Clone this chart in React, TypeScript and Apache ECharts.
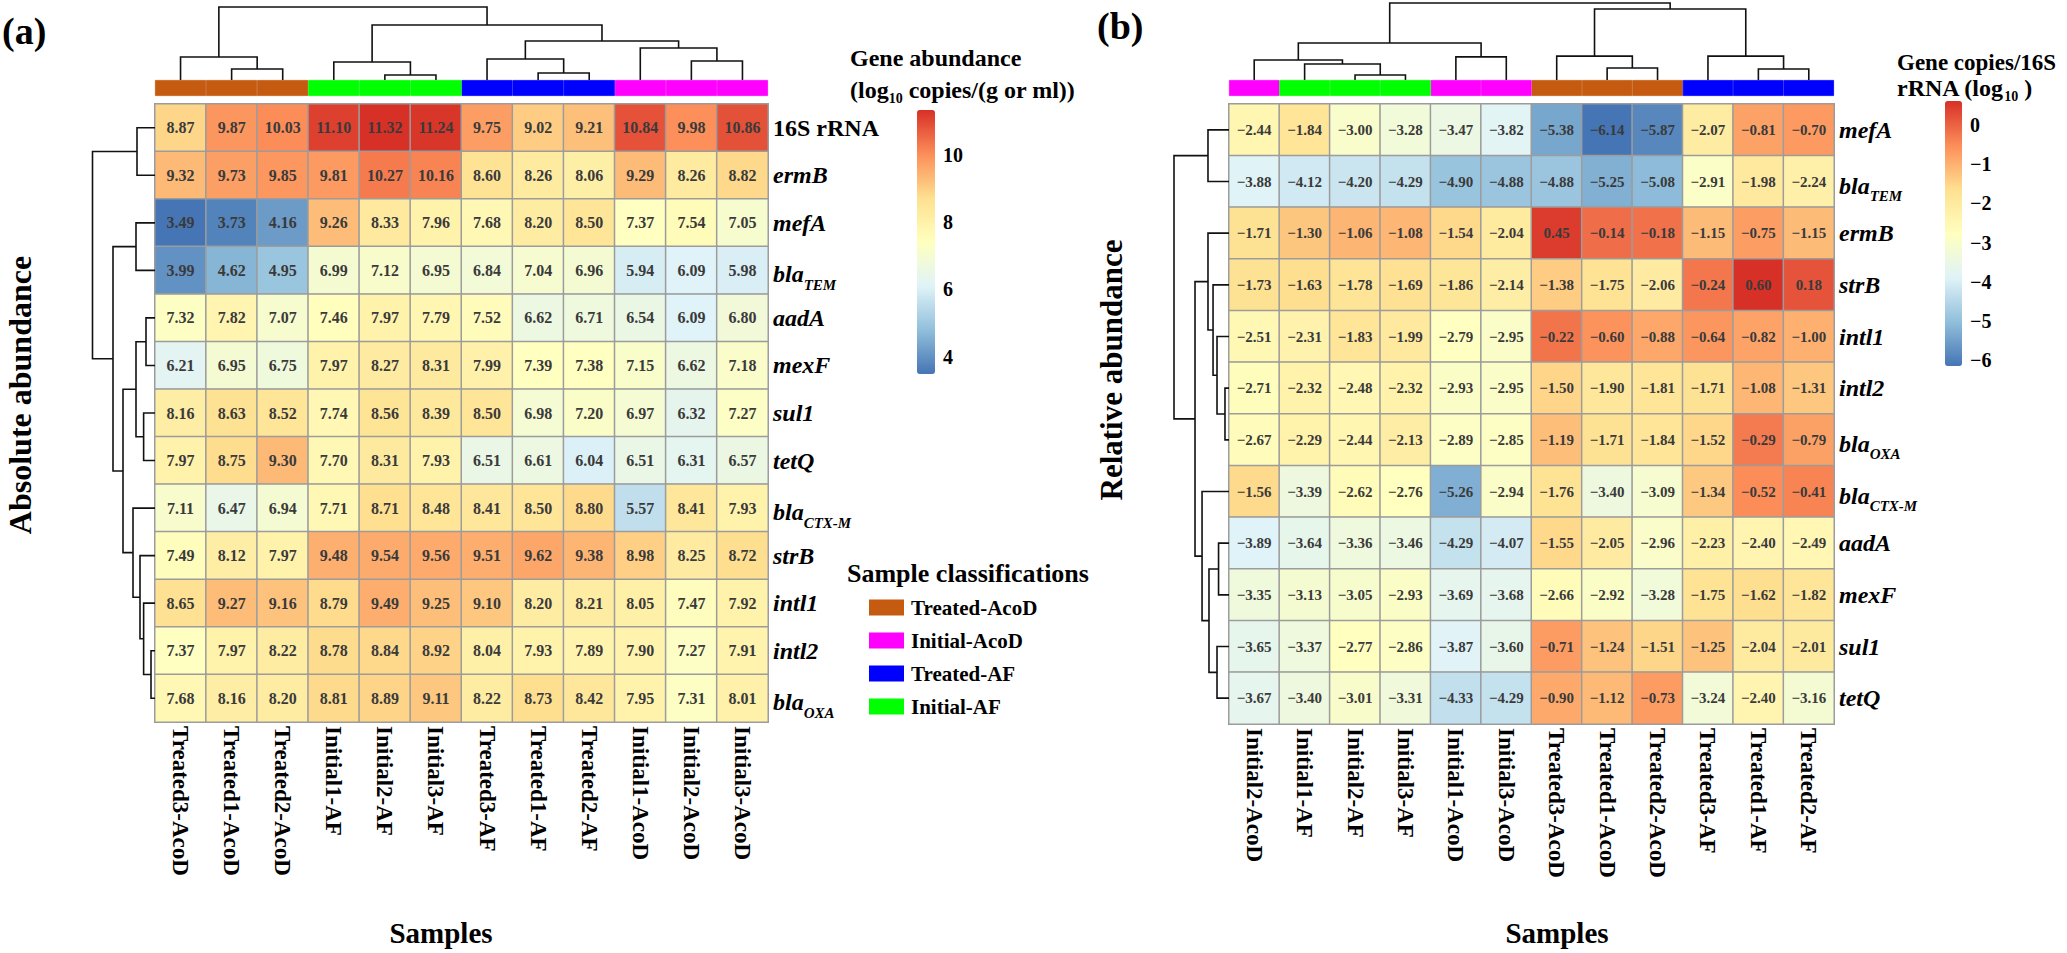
import React, { useEffect, useRef } from 'react';
import * as echarts from 'echarts';

const FONT = "'Liberation Serif', 'Times New Roman', serif";
const PAL = ['#4575B4', '#91BFDB', '#E0F3F8', '#FFFFBF', '#FEE090', '#FC8D59', '#D73027'];

// ---------- Panel (a): absolute abundance ----------
const colsA = ['Treated3-AcoD', 'Treated1-AcoD', 'Treated2-AcoD', 'Initial1-AF', 'Initial2-AF', 'Initial3-AF', 'Treated3-AF', 'Treated1-AF', 'Treated2-AF', 'Initial1-AcoD', 'Initial2-AcoD', 'Initial3-AcoD'];
const groupsA = ['Treated-AcoD', 'Treated-AcoD', 'Treated-AcoD', 'Initial-AF', 'Initial-AF', 'Initial-AF', 'Treated-AF', 'Treated-AF', 'Treated-AF', 'Initial-AcoD', 'Initial-AcoD', 'Initial-AcoD'];
const rowsA = ['16S rRNA', 'ermB', 'mefA', 'blaTEM', 'aadA', 'mexF', 'sul1', 'tetQ', 'blaCTX-M', 'strB', 'intl1', 'intl2', 'blaOXA'];
const valuesA = [
  [8.87, 9.87, 10.03, 11.10, 11.32, 11.24, 9.75, 9.02, 9.21, 10.84, 9.98, 10.86],
  [9.32, 9.73, 9.85, 9.81, 10.27, 10.16, 8.60, 8.26, 8.06, 9.29, 8.26, 8.82],
  [3.49, 3.73, 4.16, 9.26, 8.33, 7.96, 7.68, 8.20, 8.50, 7.37, 7.54, 7.05],
  [3.99, 4.62, 4.95, 6.99, 7.12, 6.95, 6.84, 7.04, 6.96, 5.94, 6.09, 5.98],
  [7.32, 7.82, 7.07, 7.46, 7.97, 7.79, 7.52, 6.62, 6.71, 6.54, 6.09, 6.80],
  [6.21, 6.95, 6.75, 7.97, 8.27, 8.31, 7.99, 7.39, 7.38, 7.15, 6.62, 7.18],
  [8.16, 8.63, 8.52, 7.74, 8.56, 8.39, 8.50, 6.98, 7.20, 6.97, 6.32, 7.27],
  [7.97, 8.75, 9.30, 7.70, 8.31, 7.93, 6.51, 6.61, 6.04, 6.51, 6.31, 6.57],
  [7.11, 6.47, 6.94, 7.71, 8.71, 8.48, 8.41, 8.50, 8.80, 5.57, 8.41, 7.93],
  [7.49, 8.12, 7.97, 9.48, 9.54, 9.56, 9.51, 9.62, 9.38, 8.98, 8.25, 8.72],
  [8.65, 9.27, 9.16, 8.79, 9.49, 9.25, 9.10, 8.20, 8.21, 8.05, 7.47, 7.92],
  [7.37, 7.97, 8.22, 8.78, 8.84, 8.92, 8.04, 7.93, 7.89, 7.90, 7.27, 7.91],
  [7.68, 8.16, 8.20, 8.81, 8.89, 9.11, 8.22, 8.73, 8.42, 7.95, 7.31, 8.01],
];
const legendTicksA = [4, 6, 8, 10];
const rangeA = [3.49, 11.32];

// ---------- Panel (b): relative abundance ----------
const colsB = ['Initial2-AcoD', 'Initial1-AF', 'Initial2-AF', 'Initial3-AF', 'Initial1-AcoD', 'Initial3-AcoD', 'Treated3-AcoD', 'Treated1-AcoD', 'Treated2-AcoD', 'Treated3-AF', 'Treated1-AF', 'Treated2-AF'];
const groupsB = ['Initial-AcoD', 'Initial-AF', 'Initial-AF', 'Initial-AF', 'Initial-AcoD', 'Initial-AcoD', 'Treated-AcoD', 'Treated-AcoD', 'Treated-AcoD', 'Treated-AF', 'Treated-AF', 'Treated-AF'];
const rowsB = ['mefA', 'blaTEM', 'ermB', 'strB', 'intl1', 'intl2', 'blaOXA', 'blaCTX-M', 'aadA', 'mexF', 'sul1', 'tetQ'];
const valuesB = [
  [-2.44, -1.84, -3.00, -3.28, -3.47, -3.82, -5.38, -6.14, -5.87, -2.07, -0.81, -0.70],
  [-3.88, -4.12, -4.20, -4.29, -4.90, -4.88, -4.88, -5.25, -5.08, -2.91, -1.98, -2.24],
  [-1.71, -1.30, -1.06, -1.08, -1.54, -2.04, 0.45, -0.14, -0.18, -1.15, -0.75, -1.15],
  [-1.73, -1.63, -1.78, -1.69, -1.86, -2.14, -1.38, -1.75, -2.06, -0.24, 0.60, 0.18],
  [-2.51, -2.31, -1.83, -1.99, -2.79, -2.95, -0.22, -0.60, -0.88, -0.64, -0.82, -1.00],
  [-2.71, -2.32, -2.48, -2.32, -2.93, -2.95, -1.50, -1.90, -1.81, -1.71, -1.08, -1.31],
  [-2.67, -2.29, -2.44, -2.13, -2.89, -2.85, -1.19, -1.71, -1.84, -1.52, -0.29, -0.79],
  [-1.56, -3.39, -2.62, -2.76, -5.26, -2.94, -1.76, -3.40, -3.09, -1.34, -0.52, -0.41],
  [-3.89, -3.64, -3.36, -3.46, -4.29, -4.07, -1.55, -2.05, -2.96, -2.23, -2.40, -2.49],
  [-3.35, -3.13, -3.05, -2.93, -3.69, -3.68, -2.66, -2.92, -3.28, -1.75, -1.62, -1.82],
  [-3.65, -3.37, -2.77, -2.86, -3.87, -3.60, -0.71, -1.24, -1.51, -1.25, -2.04, -2.01],
  [-3.67, -3.40, -3.01, -3.31, -4.33, -4.29, -0.90, -1.12, -0.73, -3.24, -2.40, -3.16],
];
const legendTicksB = [-6, -5, -4, -3, -2, -1, 0];
const rangeB = [-6.14, 0.60];

// ---------- sample classes ----------
const classNames = ['Treated-AcoD', 'Initial-AcoD', 'Treated-AF', 'Initial-AF'];
const classColors = ['#C55A11', '#FF00FF', '#0000FF', '#00FF00'];

// ---------- dendrograms: [height, left, right]; leaves are indices ----------
const colTreeA: any = [1.0, [0.315, 0, [0.151, 1, 2]], [0.753, [0.247, 3, [0.068, 4, 5]], [0.534, [0.288, 6, [0.096, 7, 8]], [0.438, 9, [0.26, 10, 11]]]]];
const rowTreeA: any = [1.0, [0.288, 0, 1], [0.672, [0.304, 2, 3], [0.512, [0.304, [0.144, 4, 5], [0.182, 6, 7]], [0.352, 8, [0.24, 9, [0.182, 10, [0.064, 11, 12]]]]]]];
const colTreeB: any = [1.0, [0.48, [0.26, 0, [0.208, 1, [0.065, 2, 3]]], [0.30, 4, 5]], [0.922, [0.31, 6, [0.156, 7, 8]], [0.31, 9, [0.143, 10, 11]]]];
const rowTreeB: any = [1.0, [0.382, 0, 1], [0.618, [0.382, 2, [0.29, 3, [0.218, 4, [0.073, 5, 6]]]], [0.49, 7, [0.364, [0.19, 8, 9], [0.218, 10, 11]]]]];

function treeSegments(tree: any) {
  const out: number[][] = [];
  const walk = (n: any): number[] => {
    if (typeof n === 'number') return [n + 0.5, 0];
    const [h, a, b] = n;
    const pa = walk(a);
    const pb = walk(b);
    out.push([pa[0], pa[1], pb[0], pb[1], h]);
    return [(pa[0] + pb[0]) / 2, h];
  };
  walk(tree);
  return out;
}

const toHeat = (vals: number[][]) => {
  const d: number[][] = [];
  vals.forEach((row, r) => row.forEach((v, c) => d.push([c, r, v])));
  return d;
};

const minus = (s: string) => s.replace('-', '\u2212');

const rowLabel = (name: string) => {
  if (name === '16S rRNA') return '{n|16S rRNA}';
  if (name.startsWith('bla')) return '{b|bla}{s|' + name.slice(3) + '}';
  return '{i|' + name + '}';
};

const rowRich = {
  n: { fontFamily: FONT, fontWeight: 'bold', fontSize: 24, lineHeight: 24, color: '#000' },
  i: { fontFamily: FONT, fontWeight: 'bold', fontStyle: 'italic', fontSize: 24, lineHeight: 24, color: '#000' },
  b: { fontFamily: FONT, fontWeight: 'bold', fontStyle: 'italic', fontSize: 24, lineHeight: 24, padding: [4, 0, 0, 0], verticalAlign: 'top', color: '#000' },
  s: { fontFamily: FONT, fontWeight: 'bold', fontStyle: 'italic', fontSize: 15, lineHeight: 15, padding: [19, 0, 0, 0], verticalAlign: 'top', color: '#000' },
};

function dendroRender(vertical: boolean) {
  return (params: any, api: any) => {
    const x1 = api.value(0), h1 = api.value(1), x2 = api.value(2), h2 = api.value(3), h = api.value(4);
    const pts = vertical
      ? [[x1, h1], [x1, h], [x2, h], [x2, h2]]
      : [[h1, x1], [h, x1], [h, x2], [h2, x2]];
    return {
      type: 'polyline',
      shape: { points: pts.map((p) => api.coord(p)) },
      style: { stroke: '#111', lineWidth: 1.6, fill: null },
    };
  };
}

function buildOption() {
  const G = (left: number, top: number, width: number, height: number) => ({ left, top, width, height, containLabel: false, outerBoundsMode: 'none' });
  const grids = [
    G(155, 104, 613, 618), // 0 heat A
    G(1229, 104, 605, 620), // 1 heat B
    G(155, 7, 613, 73), // 2 col dendro A
    G(92.5, 104, 62.5, 618), // 3 row dendro A
    G(1229, 3, 605, 77), // 4 col dendro B
    G(1174, 104, 55, 620), // 5 row dendro B
    G(155, 80, 613, 16), // 6 annotation A
    G(1229, 80, 605, 16), // 7 annotation B
    G(917, 110, 18, 264), // 8 colorbar A axis
    G(1945, 101, 17, 265), // 9 colorbar B axis
  ];
  const hiddenVal = (gi: number, min: number, max: number, inverse = false) => ({ type: 'value', gridIndex: gi, min, max, inverse, show: false });
  const colLabel = {
    rotate: -90, interval: 0, margin: 4, fontFamily: FONT, fontWeight: 'bold', fontSize: 23, color: '#000',
  };
  const xAxis = [
    { type: 'category', gridIndex: 0, data: colsA, axisLine: { show: false }, axisTick: { show: false }, axisLabel: colLabel },
    { type: 'category', gridIndex: 1, data: colsB, axisLine: { show: false }, axisTick: { show: false }, axisLabel: colLabel },
    hiddenVal(2, 0, 12),
    hiddenVal(3, 0, 1, true),
    hiddenVal(4, 0, 12),
    hiddenVal(5, 0, 1, true),
    { type: 'category', gridIndex: 6, data: colsA, show: false },
    { type: 'category', gridIndex: 7, data: colsB, show: false },
    hiddenVal(8, 0, 1),
    hiddenVal(9, 0, 1),
  ];
  const rowAxis = (gi: number, data: string[]) => ({
    type: 'category', gridIndex: gi, data, inverse: true, position: 'right',
    axisLine: { show: false }, axisTick: { show: false },
    axisLabel: { margin: 5, formatter: rowLabel, rich: rowRich },
  });
  const cbAxis = (gi: number, rng: number[], ticks: number[]) => ({
    type: 'value', gridIndex: gi, min: rng[0], max: rng[1], position: 'right',
    axisLine: { show: false }, axisTick: { show: false }, splitLine: { show: false },
    axisLabel: {
      customValues: ticks, margin: 8, fontFamily: FONT, fontWeight: 'bold', fontSize: 20, color: '#000',
      formatter: (v: number) => minus(String(v)),
    },
  });
  const yAxis = [
    rowAxis(0, rowsA),
    rowAxis(1, rowsB),
    hiddenVal(2, 0, 1),
    hiddenVal(3, 0, 13, true),
    hiddenVal(4, 0, 1),
    hiddenVal(5, 0, 12, true),
    hiddenVal(6, 0, 1),
    hiddenVal(7, 0, 1),
    cbAxis(8, rangeA, legendTicksA),
    cbAxis(9, rangeB, legendTicksB),
  ];

  const heat = (idx: number, vals: number[][], fs: number) => ({
    type: 'heatmap', xAxisIndex: idx, yAxisIndex: idx, data: toHeat(vals), silent: true,
    label: {
      show: true, fontFamily: FONT, fontWeight: 'bold', fontSize: fs, color: '#3a3a3a',
      formatter: (p: any) => minus(p.value[2].toFixed(2)),
    },
    itemStyle: { borderColor: '#9c9c9c', borderWidth: 1.5 },
    emphasis: { disabled: true },
  });

  const annot = (axisIdx: number, groups: string[]) =>
    classNames.map((cn, k) => ({
      type: 'bar', name: cn, xAxisIndex: axisIdx, yAxisIndex: axisIdx, barWidth: '100%', barGap: '-100%',
      data: groups.map((g) => (g === cn ? 1 : '-')),
      itemStyle: { color: classColors[k], borderColor: classColors[k], borderWidth: 0.8 }, silent: true,
    }));

  const dendro = (axisIdx: number, tree: any, vertical: boolean) => ({
    type: 'custom', xAxisIndex: axisIdx, yAxisIndex: axisIdx, data: treeSegments(tree), silent: true, clip: false,
    renderItem: dendroRender(vertical),
  });

  const series = [
    heat(0, valuesA, 16),
    heat(1, valuesB, 15),
    dendro(2, colTreeA, true),
    dendro(3, rowTreeA, false),
    dendro(4, colTreeB, true),
    dendro(5, rowTreeB, false),
    ...annot(6, groupsA),
    ...annot(7, groupsB),
  ];

  const txt = (x: number, y: number, text: string, size: number, extra: any = {}) => ({
    type: 'text', x, y, silent: true, ...extra,
    style: {
      text, fontFamily: FONT, fontWeight: 'bold', fontSize: size, fill: '#000',
      align: extra.align || 'left', verticalAlign: 'middle', textAlign: extra.align || 'left', textVerticalAlign: 'middle',
      rich: extra.rich,
    },
  });
  const titleRich = {
    t: { fontFamily: FONT, fontWeight: 'bold', fontSize: 24, lineHeight: 24, padding: [3, 0, 0, 0], verticalAlign: 'top', fill: '#000', color: '#000' },
    s: { fontFamily: FONT, fontWeight: 'bold', fontSize: 14, lineHeight: 14, padding: [16, 0, 0, 0], verticalAlign: 'top', fill: '#000', color: '#000' },
  };

  const graphic = [
    txt(2, 31, '(a)', 38),
    txt(1097, 26, '(b)', 38),
    txt(850, 58, 'Gene abundance', 24),
    txt(850, 87, '{t|(log}{s|10}{t| copies/(g or ml))}', 24, { rich: titleRich }),
    txt(1897, 62, 'Gene copies/16S', 23),
    txt(1897, 85, '{t|rRNA (log}{s|10}{t| )}', 23, { rich: titleRich }),
    txt(847, 573, 'Sample classifications', 26),
    txt(20, 395, 'Absolute abundance', 32, { rotation: Math.PI / 2, align: 'center' }),
    txt(1111, 370, 'Relative abundance', 31, { rotation: Math.PI / 2, align: 'center' }),
    txt(441, 933, 'Samples', 29, { align: 'center' }),
    txt(1557, 933, 'Samples', 29, { align: 'center' }),
  ];

  return {
    animation: false,
    backgroundColor: '#fff',
    grid: grids,
    xAxis,
    yAxis,
    visualMap: [
      {
        type: 'continuous', seriesIndex: 0, dimension: 2, min: rangeA[0], max: rangeA[1], left: 917, top: 110,
        itemWidth: 18, itemHeight: 264, padding: 0, calculable: false, hoverLink: false, inRange: { color: PAL },
      },
      {
        type: 'continuous', seriesIndex: 1, dimension: 2, min: rangeB[0], max: rangeB[1], left: 1945, top: 101,
        itemWidth: 17, itemHeight: 265, padding: 0, calculable: false, hoverLink: false, inRange: { color: PAL },
      },
    ],
    legend: {
      data: classNames, orient: 'vertical', left: 869, top: 597, itemWidth: 33, itemHeight: 14, itemGap: 12,
      padding: 0, icon: 'rect', selectedMode: false,
      textStyle: { fontFamily: FONT, fontWeight: 'bold', fontSize: 21, color: '#000', padding: [0, 0, 0, 3] },
    },
    graphic,
    series,
  };
}

export default function App() {
  const ref = useRef<HTMLDivElement>(null);
  useEffect(() => {
    const chart = echarts.init(ref.current!, null, { renderer: 'svg' });
    chart.setOption(buildOption() as any);
    return () => chart.dispose();
  }, []);
  return (
    <div
      ref={ref}
      style={{ position: 'absolute', left: 0, top: 0, width: 2067, height: 953, background: '#fff' }}
    />
  );
}
